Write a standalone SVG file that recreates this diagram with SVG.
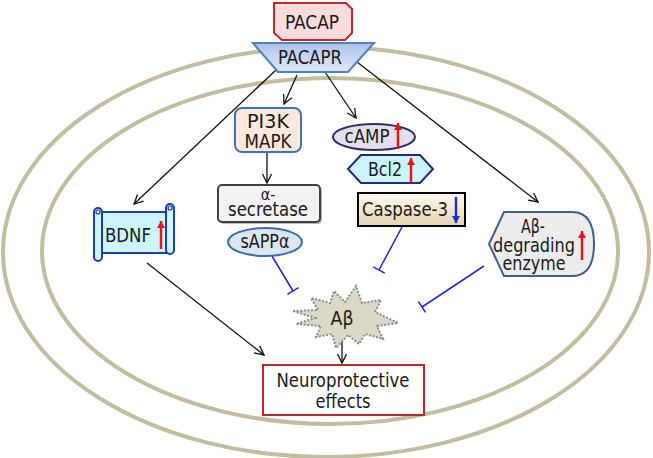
<svg xmlns="http://www.w3.org/2000/svg" width="653" height="458" viewBox="0 0 653 458">
<defs>
<style>
text{font-family:"DejaVu Sans Condensed","DejaVu Sans",sans-serif;font-size:20px;fill:#1a1a1a;text-anchor:middle}
.cell{fill:none;stroke:#c3bd9f;stroke-width:4}
.conn{fill:none;stroke:#111;stroke-width:1.3;marker-end:url(#arr)}
.inh{fill:none;stroke:#2323d2;stroke-width:1.5;marker-end:url(#bar)}
.up{stroke:#e8141c;stroke-width:2.5;marker-end:url(#redhead)}
.down{stroke:#1c2ce0;stroke-width:2.5;marker-end:url(#bluehead)}
</style>
<marker id="arr" viewBox="-10 -6 12 12" markerWidth="12" markerHeight="12" refX="0" refY="0" orient="auto" markerUnits="userSpaceOnUse">
<path d="M-9,-4.5 L0,0 L-9,4.5" fill="none" stroke="#111" stroke-width="1.3"/>
</marker>
<marker id="bar" viewBox="-2 -8 4 16" markerWidth="4" markerHeight="16" refX="0" refY="0" orient="auto" markerUnits="userSpaceOnUse">
<path d="M0,-6.5 V6.5" stroke="#2323d2" stroke-width="1.5"/>
</marker>
<marker id="redhead" viewBox="-8 -5 9 10" markerWidth="9" markerHeight="10" refX="0" refY="0" orient="auto" markerUnits="userSpaceOnUse">
<path d="M-7,-4 L0,0 L-7,4 z" fill="#e8141c"/>
</marker>
<marker id="bluehead" viewBox="-8 -5 9 10" markerWidth="9" markerHeight="10" refX="0" refY="0" orient="auto" markerUnits="userSpaceOnUse">
<path d="M-7,-4 L0,0 L-7,4 z" fill="#1c2ce0"/>
</marker>
<linearGradient id="gR" x1="0" y1="0" x2="0" y2="1">
<stop offset="0" stop-color="#a9c1e6"/><stop offset="0.5" stop-color="#c9d8ef"/><stop offset="1" stop-color="#dde7f5"/>
</linearGradient>
<linearGradient id="gC" x1="0" y1="0" x2="0" y2="1">
<stop offset="0" stop-color="#fffaf0"/><stop offset="1" stop-color="#e4d4b0"/>
</linearGradient>
</defs>
<rect width="653" height="458" fill="#fff"/>
<g id="cell">
<ellipse class="cell" cx="326" cy="252" rx="323" ry="205"/>
<ellipse class="cell" cx="330" cy="251" rx="288" ry="173"/>
</g>
<g id="connectors">
<path class="conn" d="M276,70 L134,204"/>
<path class="conn" d="M297,75 L284,104"/>
<path class="conn" d="M325,72 L356,118"/>
<path class="conn" d="M357,62 L538,202"/>
<path class="conn" d="M267,152 L267,183"/>
<path class="conn" d="M147,263 L264,355"/>
<path class="conn" d="M342,322 L342,363"/>
<path class="inh" d="M272,256 L293,291"/>
<path class="inh" d="M402,227 L379,270"/>
<path class="inh" d="M484,266 L422,307"/>
</g>
<g id="pacap">
<polygon points="274,3 346,3 352,9 352,33 345,40 282,40 274,33" fill="#fadcdc" stroke="#c0282a" stroke-width="2"/>
<text x="312" y="29" textLength="54" lengthAdjust="spacingAndGlyphs">PACAP</text>
</g>
<g id="pacapr">
<polygon points="253,43 374,43 348,72 278,72" fill="url(#gR)" stroke="#4f81bd" stroke-width="2"/>
<text x="310" y="64" textLength="64" lengthAdjust="spacingAndGlyphs">PACAPR</text>
</g>
<g id="pi3k">
<rect x="235" y="108" width="66" height="44" rx="7" fill="#fce9dc" stroke="#3f74b0" stroke-width="2"/>
<text x="268" y="128" textLength="42" lengthAdjust="spacingAndGlyphs">PI3K</text>
<text x="268" y="148" textLength="47" lengthAdjust="spacingAndGlyphs">MAPK</text>
</g>
<g id="asecretase">
<rect x="220" y="187" width="102" height="37" rx="4" fill="#7a7a7a" opacity="0.55"/>
<rect x="218" y="185" width="102" height="37" rx="4" fill="#f2f2f2" stroke="#404040" stroke-width="2"/>
<text x="268" y="200" style="font-size:16px">α-</text>
<text x="268" y="216" textLength="80" lengthAdjust="spacingAndGlyphs">secretase</text>
</g>
<g id="sappa">
<ellipse cx="265" cy="242" rx="37" ry="14" fill="#dce6f0" stroke="#3a6ea5" stroke-width="2"/>
<text x="265" y="248" textLength="49" lengthAdjust="spacingAndGlyphs">sAPPα</text>
</g>
<g id="camp">
<ellipse cx="374" cy="137" rx="41" ry="13" fill="#e5dfec" stroke="#2e2e6e" stroke-width="2"/>
<text x="367" y="143" textLength="45" lengthAdjust="spacingAndGlyphs">cAMP</text>
<line class="up" x1="398" y1="149" x2="398" y2="123"/>
</g>
<g id="bcl2">
<polygon points="348,169 361,155 420,155 433,169 420,183 361,183" fill="#ccf5fa" stroke="#1f2a80" stroke-width="2"/>
<text x="385" y="176" textLength="34" lengthAdjust="spacingAndGlyphs">Bcl2</text>
<line class="up" x1="411" y1="183" x2="411" y2="158"/>
</g>
<g id="caspase3">
<rect x="358" y="193" width="107" height="33" fill="url(#gC)" stroke="#000" stroke-width="2"/>
<text x="405" y="216" textLength="86" lengthAdjust="spacingAndGlyphs">Caspase-3</text>
<line class="down" x1="456" y1="197" x2="456" y2="223"/>
</g>
<g id="bdnf">
<rect x="98" y="212" width="72" height="41" fill="#ccf6fc" stroke="#1f3ea8" stroke-width="2"/>
<rect x="94" y="208" width="8" height="53" rx="4" fill="#ccf6fc" stroke="#1f3ea8" stroke-width="2"/>
<rect x="166" y="204" width="8" height="50" rx="4" fill="#ccf6fc" stroke="#1f3ea8" stroke-width="2"/>
<circle cx="98" cy="212" r="2" fill="none" stroke="#1f3ea8" stroke-width="1.2"/>
<circle cx="170" cy="208" r="2" fill="none" stroke="#1f3ea8" stroke-width="1.2"/>
<text x="128" y="242" textLength="46" lengthAdjust="spacingAndGlyphs">BDNF</text>
<line class="up" x1="161" y1="249" x2="161" y2="221"/>
</g>
<g id="enzyme">
<path d="M504,212 L572,212 Q594,212 594,244 Q594,276 572,276 L504,276 L489,244 Z" fill="#ececec" stroke="#41608f" stroke-width="2"/>
<text x="533" y="233" textLength="24" lengthAdjust="spacingAndGlyphs">Aβ-</text>
<text x="534" y="252" textLength="82" lengthAdjust="spacingAndGlyphs">degrading</text>
<text x="534" y="270" textLength="63" lengthAdjust="spacingAndGlyphs">enzyme</text>
<line class="up" x1="582" y1="260" x2="582" y2="231"/>
</g>
<g id="abeta">
<polygon points="293,311 318,310 311,298 330,303 334,291 345,302 356,286 362,303 381,300 375,312 398,323 377,326 383,339 365,334 359,344 348,335 336,348 332,334 316,337 321,326 296,324 315,318" fill="#dcd8c6" stroke="#8a8a8a" stroke-width="2" stroke-dasharray="2 1.6"/>
<text x="342" y="325" textLength="23" lengthAdjust="spacingAndGlyphs">Aβ</text>
</g>
<g id="neuro">
<rect x="263" y="365" width="161" height="50" fill="#fff" stroke="#c0282a" stroke-width="2"/>
<text x="343" y="387" textLength="133" lengthAdjust="spacingAndGlyphs">Neuroprotective</text>
<text x="343" y="408" textLength="55" lengthAdjust="spacingAndGlyphs">effects</text>
</g>
</svg>
